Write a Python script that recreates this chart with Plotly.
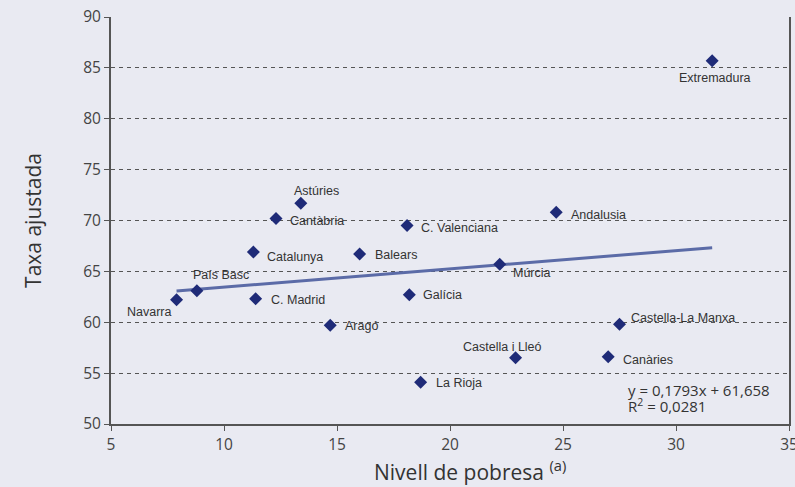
import plotly.graph_objects as go

regions = ["Extremadura", "Astúries", "Cantàbria", "C. Valenciana", "Andalusia",
           "Catalunya", "Balears", "País Basc", "Navarra", "C. Madrid", "Aragó",
           "Múrcia", "Galícia", "Castella-La Manxa", "Castella i Lleó", "Canàries",
           "La Rioja"]
poverty = [31.6, 13.4, 12.3, 18.1, 24.7, 11.3, 16.0, 8.8, 7.9, 11.4, 14.7,
           22.2, 18.2, 27.5, 22.9, 27.0, 18.7]
rate = [85.7, 71.7, 70.2, 69.5, 70.8, 66.9, 66.7, 63.1, 62.2, 62.3, 59.7,
        65.7, 62.7, 59.8, 56.5, 56.6, 54.1]

slope = 0.1793
intercept = 61.658
eq_lines = ["y = 0,1793x + 61,658", "R<sup>2</sup> = 0,0281"]
x_title = "Nivell de pobresa <sup>(a)</sup>"
y_title = "Taxa ajustada"

# label offsets (pixels) and anchors for each region
label_pos = {
    "Extremadura": (3, -17, "center"),
    "Astúries": (16, 12, "center"),
    "Cantàbria": (12, -3, "left"),
    "C. Valenciana": (12, -2, "left"),
    "Andalusia": (13, -3, "left"),
    "Catalunya": (12, -5, "left"),
    "Balears": (13, -1, "left"),
    "País Basc": (24, 16, "center"),
    "Navarra": (-27, -12, "center"),
    "C. Madrid": (13, -1, "left"),
    "Aragó": (13, -1, "left"),
    "Múrcia": (11, -9, "left"),
    "Galícia": (12, 0, "left"),
    "Castella-La Manxa": (9, 6, "left"),
    "Castella i Lleó": (-13, 11, "center"),
    "Canàries": (13, -3, "left"),
    "La Rioja": (13, -1, "left"),
}

xmin, xmax = min(poverty), max(poverty)
BG = "#E9EAF2"

fig = go.Figure()
fig.add_trace(go.Scatter(
    x=[xmin, xmax], y=[slope * xmin + intercept, slope * xmax + intercept],
    mode="lines", line=dict(color="#5B6BA7", width=3), hoverinfo="skip",
    showlegend=False))
fig.add_trace(go.Scatter(
    x=poverty, y=rate, mode="markers",
    marker=dict(symbol="diamond", size=10, color="#1F2B78"),
    showlegend=False))

for name, xv, yv in zip(regions, poverty, rate):
    dx, dy, anc = label_pos[name]
    fig.add_annotation(x=xv, y=yv, text=name, showarrow=False,
                       xanchor=anc, yanchor="middle", xshift=dx, yshift=dy,
                       font=dict(family="Liberation Sans, Arial", size=12.5, color="#333333"))

for i, line in enumerate(eq_lines):
    fig.add_annotation(x=27.8, y=52.6, xref="x", yref="y", text=line,
                       showarrow=False, xanchor="left", yanchor="middle", align="left",
                       yshift=8 - 16 * i,
                       font=dict(family="Open Sans", size=15, color="#333333"))

fig.add_annotation(x=0.53, y=-0.115, xref="paper", yref="paper", text=x_title,
                   showarrow=False, xanchor="center", yanchor="middle",
                   font=dict(family="Open Sans", size=21, color="#333333"))

fig.update_layout(
    width=795, height=487,
    margin=dict(l=111, r=6, t=17, b=63),
    paper_bgcolor=BG, plot_bgcolor=BG,
    font=dict(family="Open Sans", color="#444444"),
    xaxis=dict(range=[5, 35], dtick=5, showgrid=False, zeroline=False,
               automargin=False, ticklabeloverflow="allow",
               showline=True, linecolor="#555555", linewidth=2,
               ticks="outside", ticklen=5, tickcolor="#555555",
               tickfont=dict(size=15.5, color="#444444")),
    yaxis=dict(range=[50, 90], dtick=5, showgrid=True, gridcolor="#555555",
               griddash="4px,4px", gridwidth=1, zeroline=False,
               automargin=False,
               showline=True, linecolor="#555555", linewidth=2, mirror=True,
               ticks="outside", ticklen=5, tickcolor="#555555",
               tickfont=dict(size=15.5, color="#444444"),
               title=dict(text=y_title,
                          font=dict(size=21, color="#333333"), standoff=36)),
)

fig.write_html("out.html",
               config={"displayModeBar": False},
               post_script="document.body.style.margin='0';"
                           "document.body.style.background='" + BG + "';")
